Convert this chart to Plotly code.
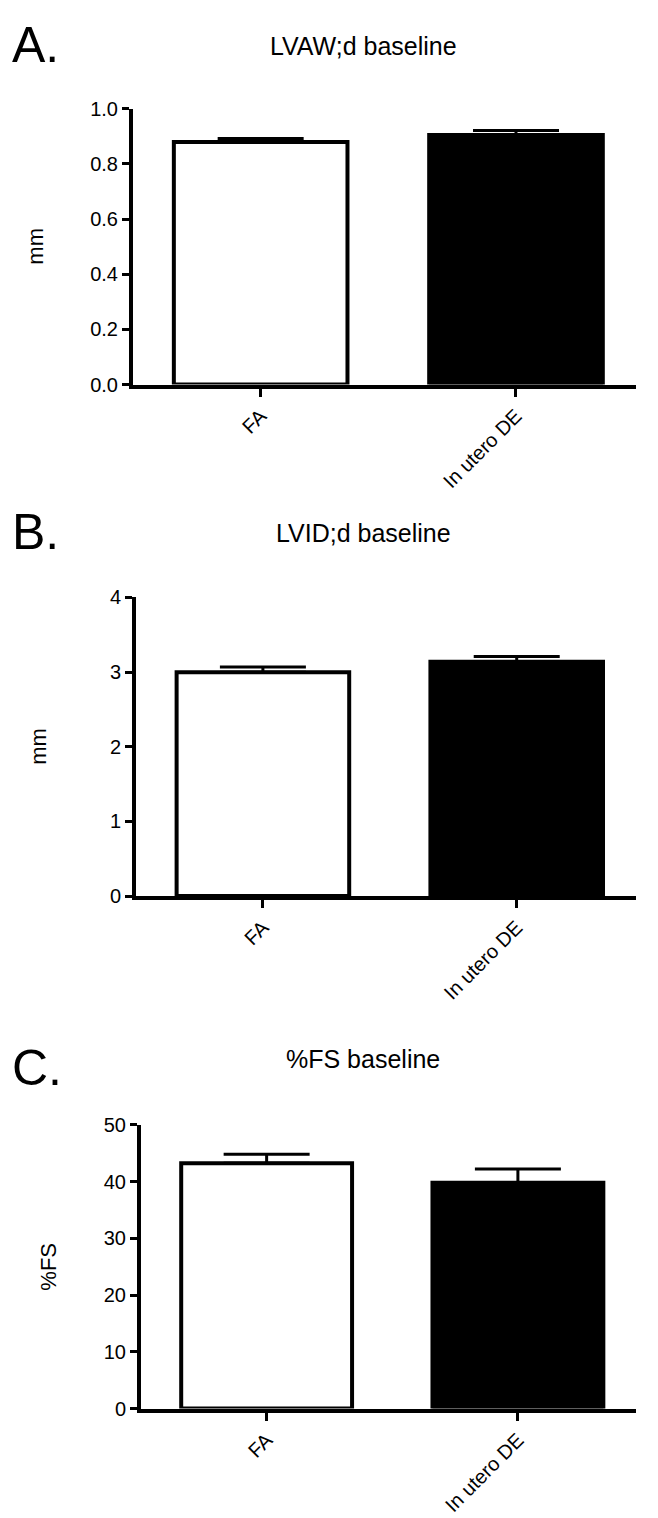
import plotly.graph_objects as go
from plotly.subplots import make_subplots

groups = ["FA", "In utero DE"]

lvaw_mean = [0.879, 0.905]
lvaw_sem = [0.013, 0.016]

lvid_mean = [3.00, 3.14]
lvid_sem = [0.07, 0.07]

fs_mean = [43.2, 39.8]
fs_sem = [1.6, 2.4]

panels = [
    ("A.", "LVAW;d baseline", "mm", lvaw_mean, lvaw_sem, [0, 1.0], 0.2, ".1f"),
    ("B.", "LVID;d baseline", "mm", lvid_mean, lvid_sem, [0, 4], 1, "d"),
    ("C.", "%FS baseline", "%FS", fs_mean, fs_sem, [0, 50], 10, "d"),
]

W, H = 658, 1518
# layout in pixels: plot box (top, bottom), left edge, title/letter centre, y-title x
boxes = [(91, 371), (587, 890), (1122, 1410)]
x_lefts = [125, 128, 133]
x_right = 628
title_y = [27, 522, 1055]
letter_y = [26, 521, 1064]
ytitle_x = [28, 31, 41]
FONT = "Liberation Sans, Arial, sans-serif"

fig = make_subplots(rows=3, cols=1)

annots = []
for i, (letter, title, ytitle, mean, sem, yr, dt, fmt) in enumerate(panels):
    r = i + 1
    fig.add_trace(go.Bar(
        x=groups, y=mean,
        marker=dict(color=["white", "black"], line=dict(color="black", width=4)),
        error_y=dict(type="data", symmetric=False, array=sem, arrayminus=[0, 0],
                     color="black", thickness=3, width=43),
        showlegend=False,
    ), row=r, col=1)
    top, bot = boxes[i]
    xname = "xaxis" if i == 0 else f"xaxis{r}"
    yname = "yaxis" if i == 0 else f"yaxis{r}"
    fig.layout[xname].update(
        domain=[x_lefts[i] / W, x_right / W], range=[-0.5, 1.47],
        showline=True, linecolor="black", linewidth=4,
        ticks="outside", ticklen=8, tickwidth=3, tickcolor="black",
        tickangle=-45, tickfont=dict(family=FONT, size=20, color="black"),
        showgrid=False, zeroline=False,
    )
    fig.layout[yname].update(
        domain=[1 - bot / H, 1 - top / H], range=yr, dtick=dt, tickformat=fmt,
        showline=True, linecolor="black", linewidth=4,
        ticks="outside", ticklen=7, tickwidth=3, tickcolor="black",
        tickfont=dict(family=FONT, size=20, color="black"),
        showgrid=False, zeroline=False,
    )
    mid = (top + bot) / 2
    annots.append(dict(text=ytitle, x=ytitle_x[i] / W, y=1 - mid / H, xref="paper", yref="paper",
                       textangle=-90, showarrow=False, xanchor="center", yanchor="middle",
                       font=dict(family=FONT, size=22, color="black")))
    annots.append(dict(text=title, x=355 / W, y=1 - title_y[i] / H, xref="paper", yref="paper",
                       showarrow=False, xanchor="center", yanchor="middle",
                       font=dict(family=FONT, size=25, color="black")))
    annots.append(dict(text=letter, x=2 / W, y=1 - letter_y[i] / H, xref="paper", yref="paper",
                       showarrow=False, xanchor="left", yanchor="middle",
                       font=dict(family=FONT, size=50, color="black")))

fig.update_layout(
    width=W, height=H,
    margin=dict(l=0, r=0, t=0, b=0),
    paper_bgcolor="white", plot_bgcolor="white",
    bargap=0.32,
    annotations=annots,
)

fig.write_html("out.html")
